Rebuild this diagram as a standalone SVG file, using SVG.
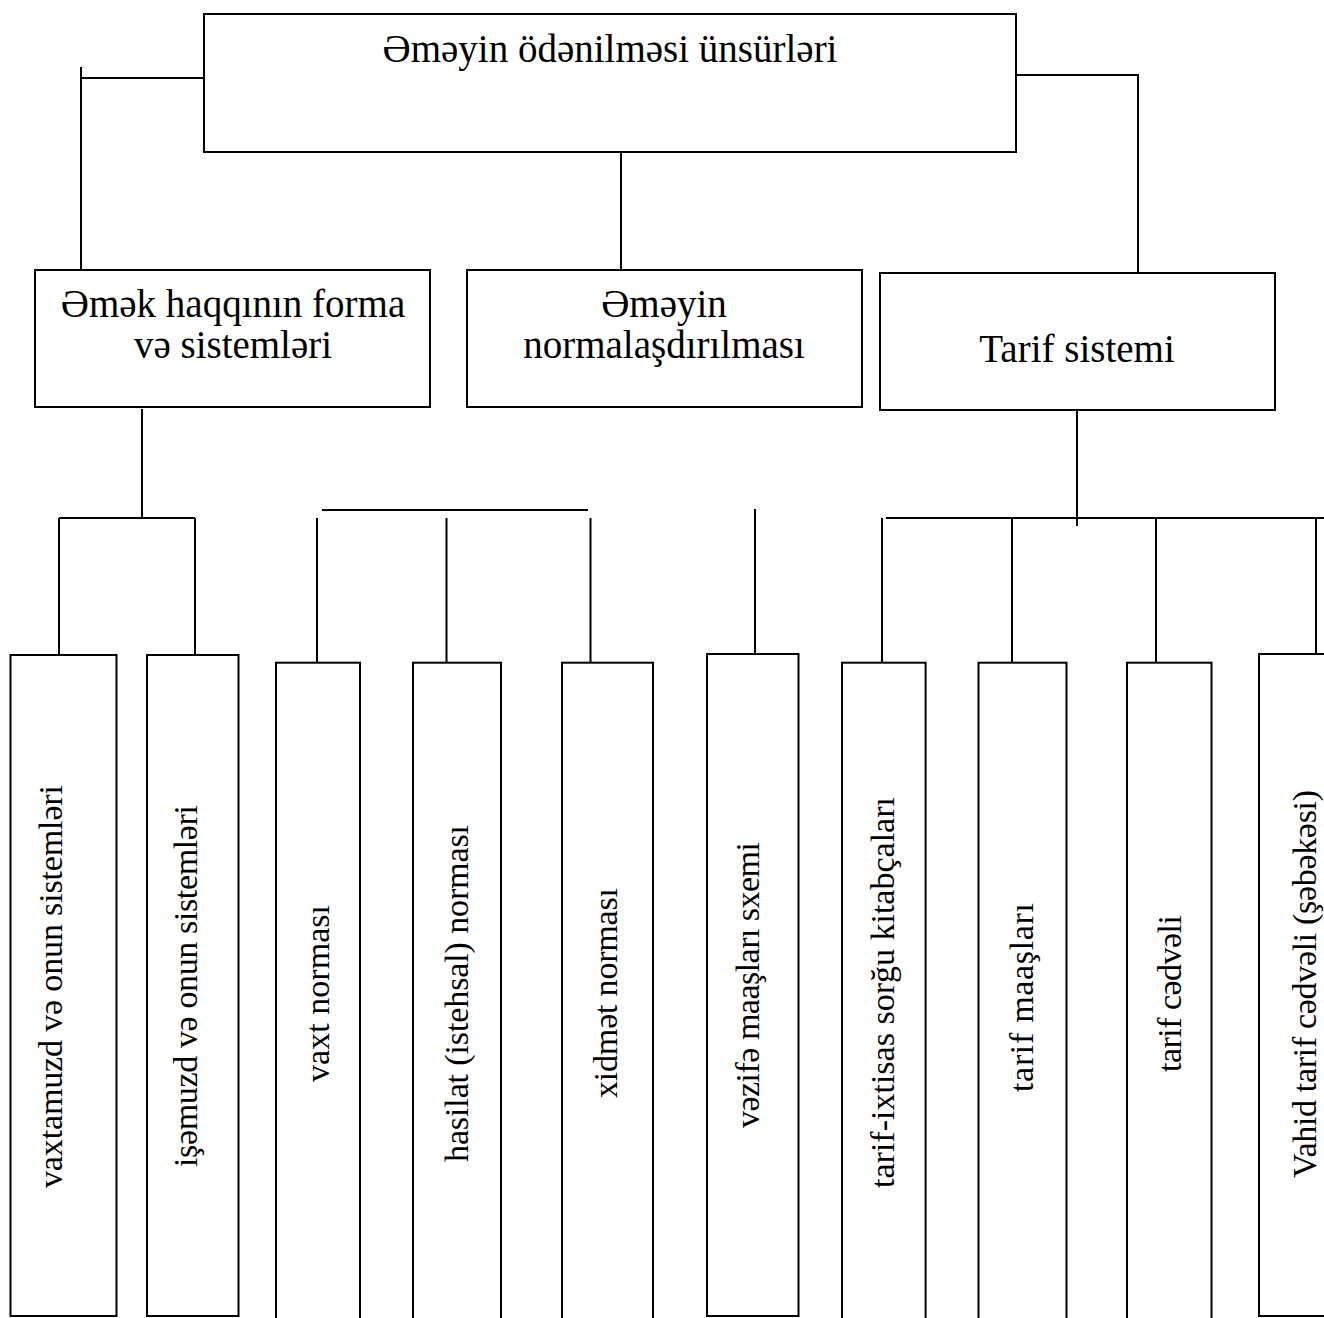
<svg xmlns="http://www.w3.org/2000/svg" width="1324" height="1318" viewBox="0 0 1324 1318">
<style>
.box{fill:#fff;stroke:#000;stroke-width:2}
.ln{stroke:#000;stroke-width:2;fill:none}
.t{font-family:"Liberation Serif","Times New Roman","DejaVu Serif",serif;font-size:39px;fill:#000;text-anchor:middle}
.v{font-family:"Liberation Serif","Times New Roman","DejaVu Serif",serif;font-size:34px;fill:#000;text-anchor:middle}
</style>
<rect width="1324" height="1318" fill="#fff"/>
<g id="connectors">
<path class="ln" d="M81 67V272M81 78H204"/>
<path class="ln" d="M621 143V273"/>
<path class="ln" d="M1016 75H1138V281"/>
<path class="ln" d="M142 409V518M59 518H195M59 518V663M195 518V663"/>
<path class="ln" d="M322 510H588M317 518V662M446.5 518V662M590.5 518V662"/>
<path class="ln" d="M755 509V654"/>
<path class="ln" d="M1077 410V526M886 518H1324M882 518V662M1012 518V662M1156 518V662M1316 518V663"/>
</g>
<g id="n-root"><rect class="box" x="204" y="14" width="812" height="138"/><text class="t" x="610" y="62">Əməyin ödənilməsi ünsürləri</text></g>
<g id="n-forma"><rect class="box" x="35" y="270" width="395" height="137"/><text class="t" x="233" y="317">Əmək haqqının forma</text><text class="t" x="233" y="358">və sistemləri</text></g>
<g id="n-norma"><rect class="box" x="467" y="270" width="395" height="137"/><text class="t" x="664" y="317">Əməyin</text><text class="t" x="664" y="358">normalaşdırılması</text></g>
<g id="n-tarif"><rect class="box" x="880" y="273" width="395" height="137"/><text class="t" x="1077" y="362">Tarif sistemi</text></g>
<g id="n-vaxtamuzd"><rect class="box" x="10.5" y="655" width="106" height="661"/><text class="v" transform="translate(62,986.5) rotate(-90)" textLength="403">vaxtamuzd və onun sistemləri</text></g>
<g id="n-isemuzd"><rect class="box" x="147" y="655" width="91.5" height="661"/><text class="v" transform="translate(197,986) rotate(-90)" textLength="362">işəmuzd və onun sistemləri</text></g>
<g id="n-vaxt"><rect class="box" x="276" y="662.7" width="84" height="670"/><text class="v" transform="translate(329,993.5) rotate(-90)" textLength="177">vaxt norması</text></g>
<g id="n-hasilat"><rect class="box" x="413" y="662.7" width="88" height="670"/><text class="v" transform="translate(468,993.5) rotate(-90)" textLength="337">hasilat (istehsal) norması</text></g>
<g id="n-xidmet"><rect class="box" x="562" y="662.7" width="91" height="670"/><text class="v" transform="translate(617,993) rotate(-90)" textLength="210">xidmət norması</text></g>
<g id="n-vezife"><rect class="box" x="707" y="654" width="91.5" height="662"/><text class="v" transform="translate(759,985) rotate(-90)" textLength="286">vəzifə maaşları sxemi</text></g>
<g id="n-tarif-ixtisas"><rect class="box" x="842" y="662.7" width="83.6" height="670"/><text class="v" transform="translate(894,992.5) rotate(-90)" textLength="391">tarif-ixtisas sorğu kitabçaları</text></g>
<g id="n-tarif-maas"><rect class="box" x="978.5" y="662.7" width="88" height="670"/><text class="v" transform="translate(1033,997.5) rotate(-90)" textLength="189">tarif maaşları</text></g>
<g id="n-tarif-cedveli"><rect class="box" x="1127" y="662.7" width="84.5" height="670"/><text class="v" transform="translate(1181,993.5) rotate(-90)" textLength="157">tarif cədvəli</text></g>
<g id="n-vahid"><rect class="box" x="1259" y="654" width="80" height="662"/><text class="v" transform="translate(1316,984) rotate(-90)" textLength="388">Vahid tarif cədvəli (şəbəkəsi)</text></g>
</svg>
